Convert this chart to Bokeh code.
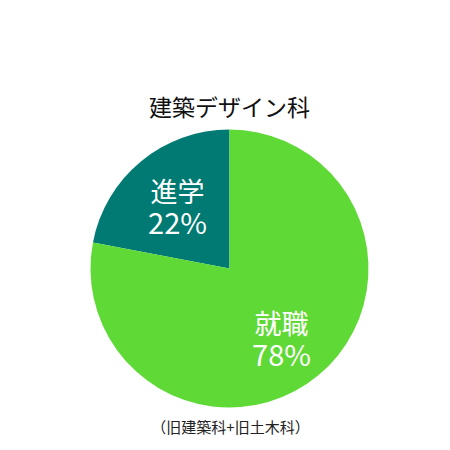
import numpy as np
from bokeh.plotting import figure
from bokeh.models import ColumnDataSource
from bokeh.core.properties import value
from bokeh.embed import file_html
from bokeh.resources import INLINE

title = "建築デザイン科"
subtitle = "（旧建築科+旧土木科）"
categories = ["進学", "就職"]
percents = [22, 78]
colors = ["#007a72", "#5fd936"]

W = H = 442
p = figure(width=W, height=H, output_backend="svg", toolbar_location=None,
           x_range=(0, W), y_range=(0, H), min_border=0)
p.axis.visible = False
p.grid.visible = False
p.outline_line_color = None
p.background_fill_color = "white"

cx, cy, r = 229, H - 268, 139
fr = np.array(percents) / sum(percents)
ends = np.pi / 2 + np.cumsum(fr) * 2 * np.pi
starts = np.concatenate([[np.pi / 2], ends[:-1]])
src = ColumnDataSource(dict(start=starts, end=ends, color=colors))
p.wedge(x=cx, y=cy, radius=r, start_angle="start", end_angle="end",
        fill_color="color", line_color=None, source=src)

font = value("Noto Sans CJK JP")
lx = [177, 281]
ly = [H - 190, H - 322]
labs = [f"{c}" for c in categories]
pcts = [f"{v}%" for v in percents]
p.text(x=lx, y=ly, text=labs, text_font=font, text_font_size="27px",
       text_color="white", text_align="center", text_baseline="middle")
p.text(x=lx, y=[v - 30 for v in ly], text=pcts, text_font=font, text_font_size="29px",
       text_color="white", text_align="center", text_baseline="middle")

p.text(x=[229], y=[H - 105], text=[title], text_font=font, text_font_size="23px",
       text_color="#111111", text_align="center", text_baseline="middle")
p.text(x=[230], y=[H - 426], text=[subtitle], text_font=font, text_font_size="15px",
       text_color="#222222", text_align="center", text_baseline="middle")

open("out.html", "w").write(file_html(p, INLINE))
